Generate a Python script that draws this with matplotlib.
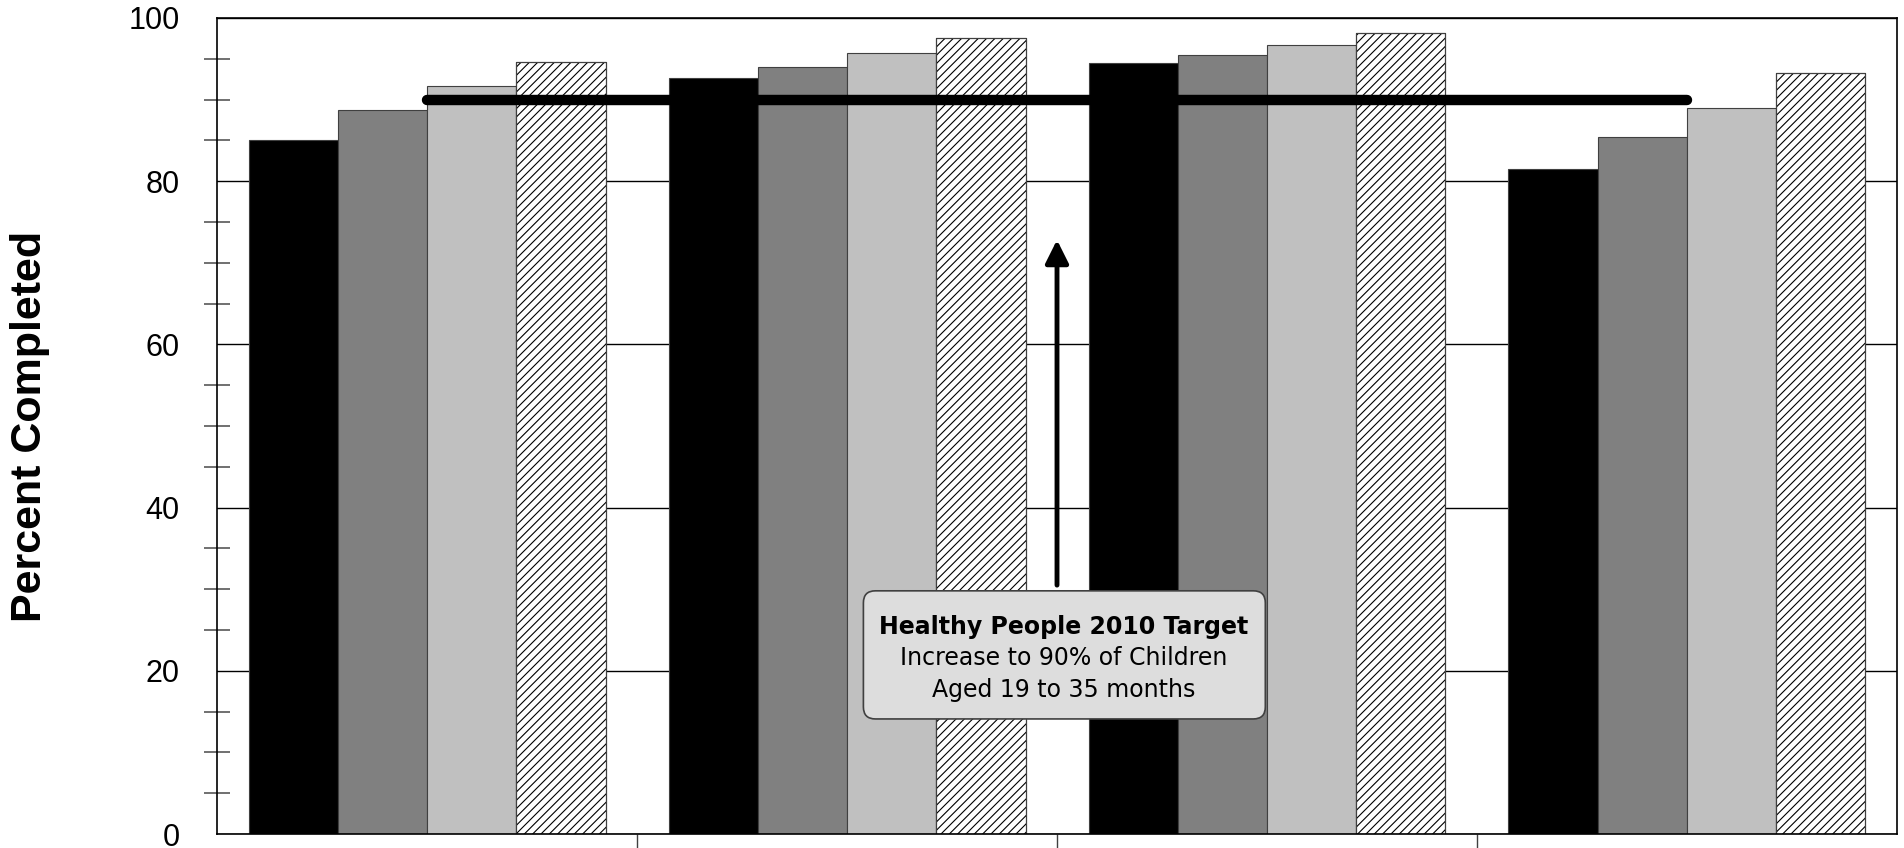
import numpy as np
import matplotlib
matplotlib.use('Agg')
import matplotlib.pyplot as plt
from matplotlib.patches import FancyBboxPatch
from matplotlib.transforms import IdentityTransform

# values (percent completed), four groups, four series each
groups = np.arange(4)
series_black = [85.1, 92.6, 94.5, 81.5]
series_dark = [88.7, 94.0, 95.5, 85.4]
series_light = [91.7, 95.7, 96.7, 89.0]
series_hatch = [94.6, 97.5, 98.1, 93.2]
target = 90

plt.rcParams['hatch.linewidth'] = 0.8

fig = plt.figure(figsize=(19.04, 8.48), dpi=100)
ax = fig.add_axes([0.114, 0.0165, 0.8823, 0.9623])

w = 0.2125
offs = np.array([-1.5, -0.5, 0.5, 1.5]) * w
ax.bar(groups + offs[0], series_black, w, color='black', edgecolor='#404040', linewidth=0.8, zorder=2)
ax.bar(groups + offs[1], series_dark, w, color='#808080', edgecolor='#404040', linewidth=0.8, zorder=2)
ax.bar(groups + offs[2], series_light, w, color='#c0c0c0', edgecolor='#404040', linewidth=0.8, zorder=2)
ax.bar(groups + offs[3], series_hatch, w, color='white', edgecolor='black', hatch='////',
       linewidth=0.8, zorder=2)
ax.bar(groups + offs[3], series_hatch, w, fill=False, edgecolor='#404040', linewidth=0.8, zorder=2)

# target line
ax.plot([groups[0], groups[-1]], [target, target], color='black', lw=7.5,
        solid_capstyle='round', zorder=4)

ax.set_xlim(-0.5, 3.5)
ax.set_ylim(0, 100)
ax.set_yticks([0, 20, 40, 60, 80, 100])
ax.set_yticks(np.arange(5, 100, 5), minor=True)
ax.yaxis.grid(True, which='major', color='black', linewidth=1.0, zorder=0)
ax.set_axisbelow(True)
ax.tick_params(axis='y', which='major', length=0, pad=27, labelsize=22)
ax.tick_params(axis='y', which='minor', direction='inout', length=19, width=1.4, color='#707070')
ax.set_xticks([])
ax.set_xticks([0.5, 1.5, 2.5], minor=True)
ax.tick_params(axis='x', which='minor', direction='out', length=25, width=1.0, color='#404040')
for lab in ax.get_yticklabels():
    lab.set_fontfamily('Liberation Sans')
for s in ax.spines.values():
    s.set_linewidth(1.2)
    s.set_color('black')

fig.text(0.0158, 0.497, 'Percent Completed', rotation=90, ha='center', va='center',
         fontsize=31, fontweight='bold', family='Liberation Sans')

# annotation arrow and box
ax.annotate('', xy=(1.5, 72.8), xytext=(1.5, 30.5),
            arrowprops=dict(arrowstyle='-|>,head_length=0.7,head_width=0.35', color='black',
                            lw=3.5, shrinkA=0, shrinkB=0, mutation_scale=20), zorder=5)
ax.text(1.516, 25.4, 'Healthy People 2010 Target', ha='center', va='center', fontsize=17,
        fontweight='bold', zorder=7)
ax.text(1.516, 21.6, 'Increase to 90% of Children', ha='center', va='center', fontsize=17, zorder=7)
ax.text(1.516, 17.7, 'Aged 19 to 35 months', ha='center', va='center', fontsize=17, zorder=7)

x0, y0 = ax.transData.transform((1.039, 14.1))
x1, y1 = ax.transData.transform((1.996, 29.8))
r = 12
box = FancyBboxPatch((x0 + r, y0 + r), x1 - x0 - 2 * r, y1 - y0 - 2 * r,
                     boxstyle='round,pad=%d,rounding_size=%d' % (r, r),
                     transform=IdentityTransform(),
                     facecolor='#dddddd', edgecolor='#404040', linewidth=1.2, zorder=6)
ax.add_patch(box)

fig.savefig('out.png', dpi=100)
